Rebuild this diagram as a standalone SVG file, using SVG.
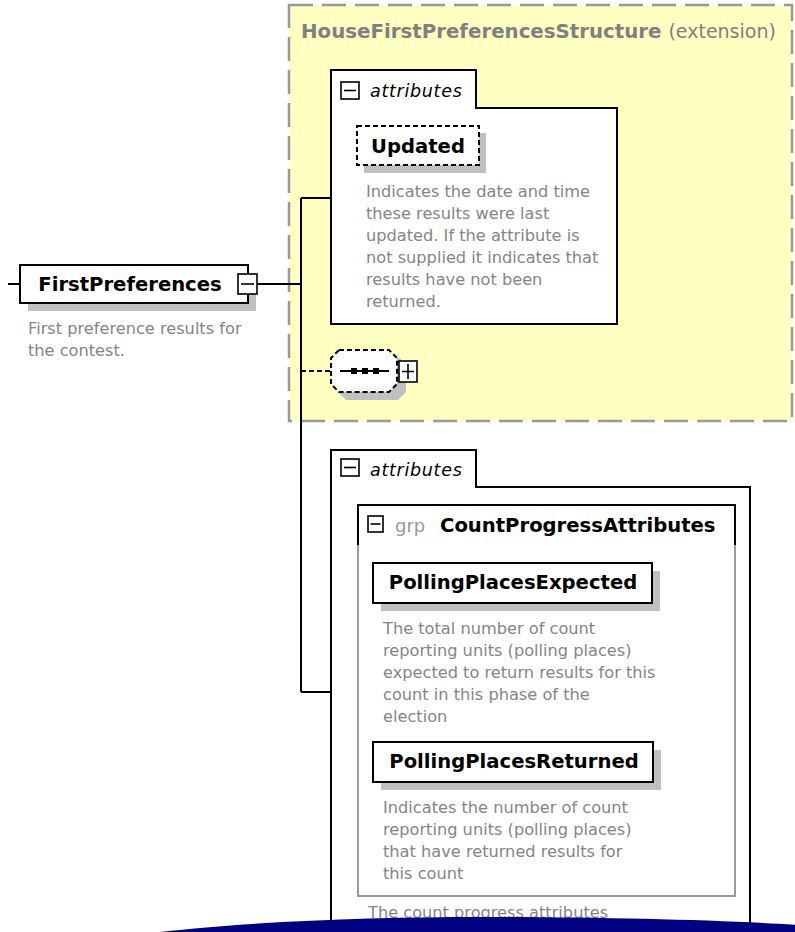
<svg xmlns="http://www.w3.org/2000/svg" width="795" height="932" viewBox="0 0 795 932">
<style>
.bold{font-family:"DejaVu Sans",sans-serif;font-weight:bold;font-size:19.6px;fill:#000}
.desc{font-family:"DejaVu Sans",sans-serif;font-size:16.2px;fill:#858585}
.ital{font-family:"DejaVu Sans",sans-serif;font-style:italic;font-size:17.5px;letter-spacing:0.7px;fill:#000}
.box{fill:#fff;stroke:#000;stroke-width:2}
.shadow{fill:#c0c0c0}
.line{fill:none;stroke:#000;stroke-width:2}
.icon{fill:#fff;stroke:#000;stroke-width:1.6}
</style>
<rect width="795" height="932" fill="#fff"/>
<g id="extension">
  <rect x="289" y="5" width="503" height="416" fill="#ffffc2" stroke="#999" stroke-width="2.5" stroke-dasharray="24 9"/>
  <text x="301" y="38" font-family="DejaVu Sans,sans-serif" font-weight="bold" font-size="19.8px" fill="#808080">HouseFirstPreferencesStructure <tspan font-weight="normal" font-size="19px">(extension)</tspan></text>
</g>
<g id="connectors">
  <path class="line" d="M8,284 H20 M257,284 H301 M301,198 V692 M301,198 H331 M301,692 H331"/>
  <path d="M301,371 H330" fill="none" stroke="#000" stroke-width="2" stroke-dasharray="5 3"/>
</g>
<g id="FirstPreferences">
  <rect class="shadow" x="28" y="273" width="228" height="38"/>
  <rect class="box" x="20" y="265" width="228" height="38"/>
  <text class="bold" x="130" y="291" text-anchor="middle">FirstPreferences</text>
  <rect class="icon" x="238" y="274" width="19" height="20"/>
  <path d="M241,284 H254" stroke="#000" stroke-width="1.6"/>
  <text class="desc" x="28" y="334">First preference results for</text>
  <text class="desc" x="28" y="356">the contest.</text>
</g>
<g id="attributes1">
  <path class="box" d="M331,324 V70 H476 V108 H617 V324 Z"/>
  <rect class="icon" x="341" y="82" width="18" height="17"/>
  <path d="M344,90.5 H356" stroke="#000" stroke-width="1.6"/>
  <text class="ital" x="370" y="97">attributes</text>
</g>
<g id="Updated">
  <rect class="shadow" x="364" y="133" width="122" height="40"/>
  <rect x="357" y="126" width="122" height="39" fill="#fff" stroke="#000" stroke-width="2" stroke-dasharray="5 3"/>
  <text class="bold" x="418" y="153" text-anchor="middle">Updated</text>
  <text class="desc" x="366" y="197">Indicates the date and time</text>
  <text class="desc" x="366" y="219">these results were last</text>
  <text class="desc" x="366" y="241">updated. If the attribute is</text>
  <text class="desc" x="366" y="263">not supplied it indicates that</text>
  <text class="desc" x="366" y="285">results have not been</text>
  <text class="desc" x="366" y="307">returned.</text>
</g>
<g id="sequence">
  <path class="shadow" d="M347,358 H400 L406,365 V392 L398,400 H346 L338,392 V366 Z"/>
  <path d="M339,350 H389 L397,358 V384 L389,392 H339 L331,384 V358 Z" fill="#fff" stroke="#000" stroke-width="2" stroke-dasharray="5 3"/>
  <path d="M340,371 H389" stroke="#000" stroke-width="2"/>
  <rect x="351" y="368" width="6" height="6" fill="#000"/>
  <rect x="362" y="368" width="6" height="6" fill="#000"/>
  <rect x="373" y="368" width="6" height="6" fill="#000"/>
  <rect class="icon" x="399" y="361" width="18" height="21"/>
  <path d="M402,371.5 H414 M408,364 V379" stroke="#000" stroke-width="1.6"/>
</g>
<g id="attributes2">
  <path class="box" d="M331,945 V450 H476 V487 H750 V945"/>
  <rect class="icon" x="341" y="459" width="18" height="17"/>
  <path d="M344,467.5 H356" stroke="#000" stroke-width="1.6"/>
  <text class="ital" x="370" y="476">attributes</text>
</g>
<g id="CountProgressAttributes">
  <rect x="358" y="505" width="377" height="391" fill="#fff" stroke="#999" stroke-width="2"/>
  <path d="M358,545 V505 H735 V545" fill="none" stroke="#000" stroke-width="2"/>
  <rect class="icon" x="368" y="516" width="15" height="16"/>
  <path d="M370.5,524 H380.5" stroke="#000" stroke-width="1.6"/>
  <text x="395" y="532" font-family="DejaVu Sans,sans-serif" font-size="18px" fill="#999">grp</text>
  <text class="bold" x="440" y="532">CountProgressAttributes</text>
  <text class="desc" x="368" y="918">The count progress attributes</text>
</g>
<g id="PollingPlacesExpected">
  <rect class="shadow" x="381" y="571" width="279" height="40"/>
  <rect class="box" x="373" y="563" width="279" height="40"/>
  <text class="bold" x="513" y="589" text-anchor="middle">PollingPlacesExpected</text>
  <text class="desc" x="383" y="634">The total number of count</text>
  <text class="desc" x="383" y="656">reporting units (polling places)</text>
  <text class="desc" x="383" y="678">expected to return results for this</text>
  <text class="desc" x="383" y="700">count in this phase of the</text>
  <text class="desc" x="383" y="722">election</text>
</g>
<g id="PollingPlacesReturned">
  <rect class="shadow" x="381" y="750" width="280" height="40"/>
  <rect class="box" x="373" y="742" width="280" height="40"/>
  <text class="bold" x="514" y="768" text-anchor="middle">PollingPlacesReturned</text>
  <text class="desc" x="383" y="813">Indicates the number of count</text>
  <text class="desc" x="383" y="835">reporting units (polling places)</text>
  <text class="desc" x="383" y="857">that have returned results for</text>
  <text class="desc" x="383" y="879">this count</text>
</g>
<path d="M160,932 C255,921 380,917 480,917 C600,917 720,920 800,925 V932 Z" fill="#000080"/>
</svg>
